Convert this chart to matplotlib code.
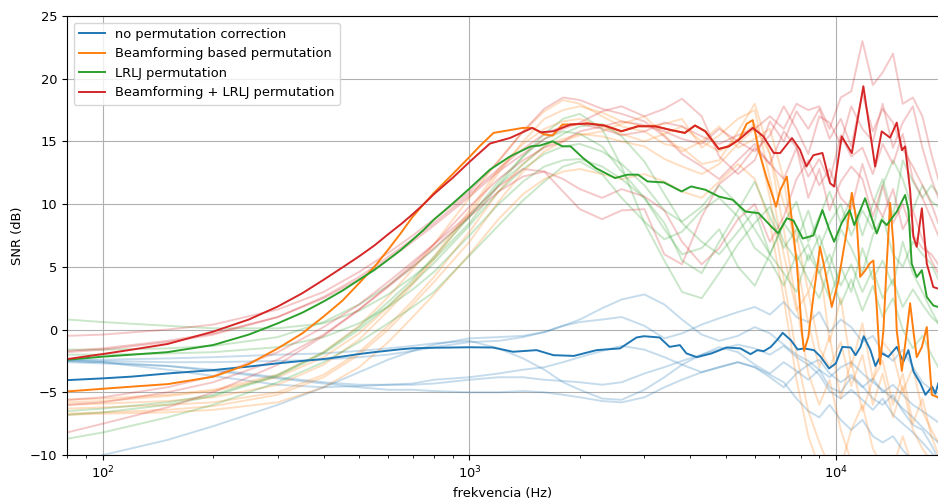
import numpy as np
import matplotlib
matplotlib.use('Agg')
import matplotlib.pyplot as plt

plt.rcParams['font.size'] = 9.4
plt.rcParams['lines.linewidth'] = 1.4

# frequency grid shared by the faint (single recording) curves
f_grid = [80, 100, 150, 200, 300, 400, 500, 600, 700, 800, 1000, 1200, 1400, 1600, 1800, 2000,
          2300, 2600, 3000, 3400, 3800, 4300, 4800, 5400, 6000, 6600, 7200, 7800, 8400, 9000,
          9600, 10300, 11000, 11800, 12600, 13400, 14300, 15200, 16200, 17200, 18200, 19000]

faint_blue = [
    [-2.5, -2.6, -2.9, -3.3, -3.9, -4.3, -4.6, -4.8, -4.8, -4.9, -5.0, -5.0, -4.9, -5.0, -5.2, -5.4, -5.7, -5.8, -5.4, -4.6, -4.0,
     -3.4, -3.0, -2.6, -3.0, -3.8, -4.6, -3.5, -2.8, -3.6, -4.9, -5.5, -4.8, -5.6, -6.4, -5.5, -6.8, -7.5, -8.2, -9.0, -9.8, -10.5],
    [-11.0, -10.0, -8.8, -7.7, -6.0, -4.6, -3.4, -2.4, -1.7, -1.2, -0.7, -0.6, -0.5, -0.2, 0.3, 0.8, 1.7, 2.4, 2.8, 2.0, 0.8,
     -0.4, -0.9, -0.5, 0.2, -0.3, -1.2, -2.0, -2.5, -3.2, -3.8, -3.0, -2.6, -3.5, -4.2, -4.8, -5.5, -6.3, -7.0, -7.8, -8.5, -9.0],
    [-2.4, -2.5, -2.6, -2.6, -2.5, -2.4, -2.2, -2.0, -1.7, -1.4, -1.0, -0.9, -0.6, -0.2, 0.3, 0.6, 0.8, 1.0, 0.3, -0.7, -0.3,
     0.4, 0.9, 1.4, 1.8, 1.2, 2.2, 1.0, 0.6, 1.4, -0.2, 0.8, 0.2, -1.0, -0.5, -1.8, -2.5, -1.6, -3.0, -4.2, -4.8, -5.5],
    [-2.6, -2.7, -2.9, -3.2, -3.8, -4.2, -4.4, -4.4, -4.4, -4.3, -4.0, -3.8, -3.8, -4.0, -4.1, -4.2, -4.4, -4.2, -3.5, -3.0, -2.5,
     -2.0, -1.6, -1.2, -1.5, -2.0, -1.3, -2.2, -2.8, -2.4, -3.5, -4.2, -3.6, -4.5, -5.5, -6.0, -5.2, -6.5, -7.6, -8.0, -9.2, -10.3],
    [-2.4, -2.4, -2.3, -2.2, -2.0, -1.9, -1.7, -1.5, -1.3, -1.1, -0.9, -1.5, -2.3, -3.2, -4.2, -4.8, -5.5, -5.6, -4.8, -3.8, -2.8,
     -2.0, -1.4, -1.8, -2.8, -3.5, -2.6, -3.3, -4.0, -3.2, -4.6, -5.0, -3.8, -4.6, -3.9, -5.0, -4.4, -5.2, -6.0, -6.5, -7.0, -7.4],
    [-2.5, -2.6, -3.2, -3.7, -4.4, -4.6, -4.5, -4.4, -4.3, -4.0, -3.8, -3.5, -3.2, -3.0, -2.6, -2.2, -1.7, -1.3, -1.6, -2.2, -2.8,
     -3.4, -3.0, -2.6, -3.0, -3.6, -4.2, -5.5, -6.5, -7.0, -6.0, -7.2, -8.0, -7.2, -8.5, -9.0, -8.5, -9.6, -10.5, -11.0, -11.0, -11.0],
]

faint_orange = [
    [-5.6, -5.5, -5.2, -4.8, -3.6, -1.8, 0.3, 2.6, 4.8, 6.8, 10.5, 13.5, 15.8, 17.4, 18.3, 18.0, 17.0, 16.2, 15.8, 14.8, 14.5,
     13.2, 13.5, 15.8, 18.0, 14.0, 8.0, 2.0, -3.5, -6.0, -4.0, -8.0, -10.5, -11, -11, -11, -11, -11, -11, -11, -11, -11],
    [-6.0, -5.9, -5.7, -5.4, -4.4, -2.8, -0.8, 1.5, 3.6, 5.6, 9.2, 12.5, 15.0, 16.8, 17.5, 17.8, 17.3, 16.6, 16.2, 16.4, 16.8,
     14.5, 15.5, 16.8, 17.5, 12.0, 6.0, 1.5, 3.0, -1.5, -3.0, -1.0, -4.5, -2.0, -6.0, -3.5, -7.0, -4.5, -8.0, -9.5, -10.5, -11],
    [-6.3, -6.2, -6.0, -5.8, -5.0, -3.6, -1.8, 0.3, 2.3, 4.2, 7.8, 11.0, 13.2, 14.6, 15.2, 15.6, 15.4, 15.0, 14.6, 13.6, 13.0,
     12.4, 13.2, 14.8, 16.0, 10.5, 4.0, -2.0, -6.5, -9.0, -11, -11, -8.0, -6.0, -9.5, -11, -11, -8.5, -11, -11, -11, -11],
    [-6.7, -6.6, -6.4, -6.1, -5.2, -3.8, -2.0, 0.0, 2.0, 3.8, 7.0, 10.2, 12.6, 14.2, 15.0, 15.5, 15.8, 16.4, 17.0, 15.5, 14.2,
     15.0, 16.2, 14.5, 15.2, 16.0, 12.0, 5.5, 0.5, -3.0, -0.5, -5.5, -2.5, -6.5, -4.0, -2.5, -6.0, -3.5, -7.5, -5.5, -8.5, -10.0],
    [-6.8, -6.7, -6.6, -6.4, -5.8, -4.6, -3.0, -1.0, 1.0, 2.8, 6.0, 8.8, 10.8, 12.0, 12.6, 12.8, 12.4, 12.0, 12.4, 11.8, 11.0,
     10.5, 11.8, 13.2, 12.0, 8.5, 2.5, -4.0, -8.5, -11, -11, -11, -11, -11, -11, -11, -11, -11, -11, -11, -11, -11],
    [-5.8, -5.7, -5.3, -4.9, -3.8, -2.2, -0.3, 1.8, 3.8, 5.8, 9.5, 12.8, 14.8, 16.0, 16.6, 16.8, 16.2, 15.6, 15.0, 15.6, 16.2,
     15.0, 14.2, 15.2, 16.4, 14.0, 10.0, 7.5, 3.0, 5.5, -1.0, 2.5, -3.0, 0.5, -4.0, -1.0, -2.0, -5.0, -3.0, -6.5, -8.0, -9.0],
]

faint_green = [
    [0.8, 0.6, 0.3, 0.1, 0.1, 0.5, 1.5, 2.8, 4.2, 5.6, 8.5, 11.5, 13.8, 15.6, 16.8, 17.2, 16.0, 13.0, 8.5, 5.5, 3.0,
     2.5, 4.5, 6.8, 8.5, 9.8, 7.0, 5.5, 6.8, 4.5, 6.0, 3.5, 5.2, 3.0, 4.8, 2.5, 4.0, 1.8, 3.2, 2.0, 1.0, 0.5],
    [-1.6, -1.6, -1.5, -1.3, -0.6, 0.6, 2.0, 3.5, 5.0, 6.4, 9.0, 11.5, 13.2, 14.6, 15.6, 16.2, 16.4, 15.4, 13.4, 10.8, 8.5,
     7.0, 6.0, 7.8, 9.5, 6.0, 8.5, 10.2, 7.0, 9.0, 11.0, 8.5, 10.5, 7.5, 10.0, 12.0, 9.0, 13.5, 11.8, 10.5, 11.5, 10.8],
    [-2.0, -2.0, -1.9, -1.8, -1.4, -0.6, 0.5, 1.8, 3.2, 4.6, 7.5, 10.0, 11.8, 13.0, 13.5, 13.6, 13.0, 12.0, 10.5, 8.0, 6.0,
     6.5, 8.0, 5.0, 3.5, 6.0, 4.5, 3.0, 6.0, 4.5, 2.5, 5.0, 3.0, 6.5, 4.0, 5.5, 3.5, 7.0, 4.5, 3.0, 1.5, 0.5],
    [-6.5, -6.3, -5.8, -5.2, -3.6, -1.8, 0.2, 2.2, 4.0, 5.8, 9.0, 11.8, 13.8, 15.2, 15.8, 15.6, 14.6, 12.6, 10.5, 8.5, 5.5,
     4.5, 7.0, 9.5, 11.8, 9.0, 6.5, 8.0, 5.5, 7.5, 5.0, 8.0, 6.5, 4.5, 7.5, 9.0, 6.0, 5.0, 7.0, 6.0, 5.2, 4.0],
    [-8.7, -8.2, -7.0, -6.0, -4.2, -2.6, -1.0, 0.5, 1.8, 3.0, 5.9, 8.3, 10.3, 11.8, 13.0, 13.4, 12.4, 10.5, 8.6, 7.2, 7.8,
     9.5, 10.5, 9.0, 6.5, 5.5, 3.5, 6.0, 4.0, 2.5, 5.0, 2.0, 4.0, 1.5, 3.5, 1.0, 2.5, 0.0, -1.5, -0.5, -2.0, -3.0],
    [-6.8, -6.6, -6.0, -5.3, -3.7, -1.9, 0.0, 1.9, 3.7, 5.3, 8.3, 11.0, 12.8, 14.0, 14.6, 14.8, 14.2, 13.2, 11.5, 9.5, 8.6,
     9.8, 11.5, 10.0, 8.0, 6.0, 8.5, 7.0, 9.5, 6.5, 8.5, 10.0, 7.5, 9.5, 8.0, 11.5, 13.5, 12.0, 9.5, 11.5, 10.2, 9.8],
]

faint_red = [
    [-0.5, -0.4, 0.0, 0.4, 1.6, 3.0, 4.6, 6.1, 7.5, 8.8, 11.0, 13.4, 15.8, 17.6, 18.5, 18.3, 17.6, 17.2, 16.6, 15.4, 14.0,
     13.0, 12.0, 13.5, 14.8, 13.2, 15.8, 14.5, 12.2, 13.6, 11.8, 15.5, 13.8, 14.5, 12.4, 14.8, 13.2, 15.6, 12.0, 10.5, 8.8, 7.5],
    [-1.7, -1.5, -0.9, -0.3, 1.0, 2.5, 4.0, 5.6, 7.0, 8.3, 10.6, 12.6, 14.0, 15.2, 16.0, 16.5, 17.4, 17.8, 17.0, 17.6, 18.4,
     17.0, 13.8, 12.4, 13.5, 16.6, 15.0, 17.4, 16.0, 17.6, 15.2, 16.8, 14.6, 18.8, 15.8, 17.6, 16.5, 14.4, 13.0, 11.5, 10.0, 8.5],
    [-1.8, -1.6, -1.0, -0.4, 1.0, 2.6, 4.2, 5.8, 7.2, 8.5, 10.8, 12.8, 14.4, 15.6, 16.2, 16.4, 16.0, 15.5, 15.8, 16.5, 16.2,
     15.4, 14.8, 15.5, 16.0, 17.0, 16.0, 18.0, 17.5, 17.8, 16.0, 18.5, 19.0, 23.0, 19.5, 20.5, 22.0, 18.0, 18.5, 17.0, 14.0, 12.0],
    [-5.6, -5.4, -4.6, -3.7, -1.8, 0.2, 2.0, 3.8, 5.4, 6.8, 9.2, 11.4, 12.8, 12.6, 11.0, 9.6, 8.8, 9.5, 9.6, 6.0, 5.2,
     9.0, 11.6, 12.8, 14.5, 13.2, 12.0, 14.5, 10.5, 12.8, 9.5, 11.8, 13.0, 12.0, 9.0, 11.5, 8.5, 10.0, 7.6, 6.5, 6.0, 5.2],
    [-6.0, -5.8, -5.0, -4.2, -2.4, -0.4, 1.6, 3.4, 5.0, 6.5, 9.0, 11.0, 12.2, 12.6, 12.0, 11.2, 10.5, 11.2, 10.6, 9.5, 7.0,
     5.2, 6.5, 8.8, 10.0, 7.0, 9.0, 12.0, 13.5, 11.5, 12.8, 10.5, 9.6, 13.2, 10.4, 9.0, 11.2, 8.0, 9.5, 7.2, 5.5, 4.5],
    [-8.2, -7.5, -6.2, -5.0, -2.8, -0.5, 1.6, 3.5, 5.2, 6.8, 9.8, 12.0, 13.5, 14.5, 15.0, 15.8, 16.2, 16.6, 16.3, 15.8, 15.2,
     14.8, 16.0, 15.0, 14.2, 15.5, 17.8, 16.0, 14.0, 17.0, 16.5, 14.8, 17.8, 16.0, 15.0, 18.0, 14.5, 16.5, 17.8, 14.5, 12.0, 10.5],
]

# averaged curves
f_blue = [80, 100, 120, 150, 200, 250, 300, 350, 400, 450, 500, 550, 600, 650, 700, 800, 1000, 1159, 1315, 1524,
          1693, 1927, 2220, 2575, 2855, 2991, 3300, 3514, 3750, 3906, 4170, 4575, 5022, 5480, 5843, 6102, 6355,
          6638, 6925, 7150, 7530, 7857, 8180, 8700, 9080, 9570, 9980, 10400, 10960, 11300, 11660, 11900, 12410,
          12800, 13340, 13880, 14640, 15260, 15750, 16270, 16990, 17530, 18280, 18660, 19000]
snr_blue = [-4.03, -3.89, -3.75, -3.5, -3.23, -2.95, -2.69, -2.5, -2.35, -2.15, -1.95, -1.8, -1.68, -1.57, -1.49,
            -1.45, -1.41, -1.43, -1.77, -1.64, -2.04, -2.1, -1.64, -1.5, -0.63, -0.53, -0.63, -1.38, -1.24, -1.9,
            -2.2, -1.9, -1.43, -1.5, -1.96, -1.64, -1.72, -1.38, -0.79, -0.26, -0.85, -1.59, -1.5, -1.64, -2.17,
            -3.1, -2.7, -1.38, -1.43, -2.04, -1.38, -0.53, -1.64, -2.9, -1.9, -2.17, -1.38, -2.57, -1.64, -3.36,
            -4.29, -5.2, -4.55, -5.1, -4.3]

f_orange = [80, 100, 120, 150, 200, 250, 300, 350, 400, 450, 500, 550, 600, 650, 700, 750, 800, 900, 1003, 1065,
            1163, 1317, 1398, 1483, 1602, 1685, 1793, 1887, 2098, 2333, 2597, 2883, 3209, 3565, 3868, 4123, 4397,
            4786, 5100, 5440, 5700, 5925, 6150, 6450, 6860, 7036, 7340, 7813, 8064, 8180, 8400, 8670, 9040, 9333,
            9733, 10150, 10700, 11040, 11390, 11630, 12000, 12380, 12640, 12910, 13180, 13460, 13750, 14040,
            14330, 14640, 15120, 15600, 15920, 16250, 16600, 17140, 17680, 18250, 18970]
snr_orange = [-4.93, -4.72, -4.55, -4.35, -3.76, -2.75, -1.5, -0.3, 1.04, 2.3, 3.7, 5.0, 6.37, 7.7, 9.0, 10.0, 10.9,
              12.4, 13.8, 14.61, 15.68, 15.95, 16.08, 16.08, 15.55, 15.47, 16.35, 16.35, 16.43, 16.27, 15.81, 16.21,
              16.21, 15.89, 15.68, 16.27, 15.81, 14.4, 14.61, 15.15, 16.4, 16.7, 14.3, 12.2, 9.8, 11.1, 12.2, 5.3,
              -0.1, -1.7, -0.6, 2.6, 6.6, 4.7, 1.8, 3.9, 7.9, 10.9, 8.5, 4.2, 4.7, 5.3, 5.5, 1.8, -2.75, -0.1, 5.3,
              10.1, 6.9, -0.1, -3.3, -0.1, 2.1, -0.1, -2.2, -1.4, 0.2, -5.2, -5.4]

f_green = [80, 100, 120, 150, 200, 250, 300, 350, 400, 450, 500, 550, 600, 650, 700, 750, 800, 900, 1003, 1137,
           1291, 1470, 1557, 1685, 1793, 1887, 2040, 2210, 2495, 2700, 2883, 3060, 3390, 3790, 4020, 4397, 4786,
           5219, 5660, 6150, 6660, 6950, 7340, 7650, 8110, 8670, 9180, 9600, 9880, 10360, 10890, 11210, 12000,
           12910, 13320, 13750, 14640, 15430, 15760, 16080, 16600, 17140, 17680, 18420, 19000]
snr_green = [-2.4, -2.16, -2.0, -1.8, -1.23, -0.4, 0.5, 1.35, 2.24, 3.1, 3.97, 4.75, 5.57, 6.35, 7.17, 7.95, 8.77,
             10.05, 11.28, 12.75, 13.81, 14.61, 14.67, 15.01, 14.61, 14.61, 13.68, 12.88, 12.08, 12.35, 12.35, 11.81,
             11.73, 11.01, 11.41, 11.15, 10.61, 10.35, 9.41, 9.28, 8.21, 7.68, 8.87, 8.7, 7.26, 7.5, 9.53, 7.9, 7.0,
             8.5, 9.53, 8.33, 10.47, 7.66, 8.73, 8.33, 9.4, 10.73, 9.53, 5.26, 4.19, 4.73, 2.6, 1.92, 1.8]

f_red = [80, 100, 120, 150, 200, 250, 300, 350, 400, 450, 500, 550, 600, 650, 700, 750, 800, 900, 1003, 1137,
         1291, 1483, 1566, 1695, 1887, 2098, 2333, 2597, 2883, 3209, 3565, 3868, 4123, 4397, 4786, 5100, 5440,
         5925, 6330, 6760, 7036, 7580, 7970, 8300, 8670, 9180, 9630, 9880, 10360, 11040, 11870, 12780, 13320,
         14040, 14640, 15120, 15430, 15920, 16250, 16600, 17140, 17680, 18420, 19000]
snr_red = [-2.35, -1.95, -1.6, -1.15, -0.16, 0.8, 1.84, 2.9, 3.97, 4.95, 5.84, 6.7, 7.6, 8.4, 9.2, 10.0, 10.8, 12.1,
           13.4, 14.83, 15.28, 16.08, 15.73, 15.81, 16.35, 16.43, 16.27, 15.81, 16.21, 16.21, 15.89, 15.68, 16.27,
           15.81, 14.4, 14.61, 15.15, 16.08, 15.41, 14.08, 14.07, 15.27, 14.35, 13.0, 13.9, 14.08, 11.67, 11.4,
           15.4, 14.07, 19.4, 13.0, 15.8, 15.3, 16.5, 14.3, 14.6, 11.1, 7.4, 6.6, 9.67, 5.26, 3.39, 3.26]

labels = ['no permutation correction', 'Beamforming based permutation',
          'LRLJ permutation', 'Beamforming + LRLJ permutation']

fig = plt.figure(figsize=(9.38, 5.03), dpi=100)
ax = fig.add_axes([67/938, 1 - 455/503, 1 - 67/938, 439/503])

# single recordings, faded
for c, group in zip(['C0', 'C1', 'C2', 'C3'], [faint_blue, faint_orange, faint_green, faint_red]):
    for curve in group:
        ax.plot(f_grid, curve, color=c, alpha=0.25)

# means on top
ax.plot(f_blue, snr_blue, color='C0', label=labels[0])
ax.plot(f_orange, snr_orange, color='C1', label=labels[1])
ax.plot(f_green, snr_green, color='C2', label=labels[2])
ax.plot(f_red, snr_red, color='C3', label=labels[3])

ax.set_xscale('log')
ax.set_xlim(79.8, 18970)
ax.set_ylim(-10, 25)
ax.set_yticks(np.arange(-10, 26, 5))
ax.spines['right'].set_visible(False)
ax.grid(True)
ax.set_xlabel('frekvencia (Hz)')
ax.set_ylabel('SNR (dB)')
ax.legend(loc='upper left')

fig.savefig('out.png', dpi=100)
